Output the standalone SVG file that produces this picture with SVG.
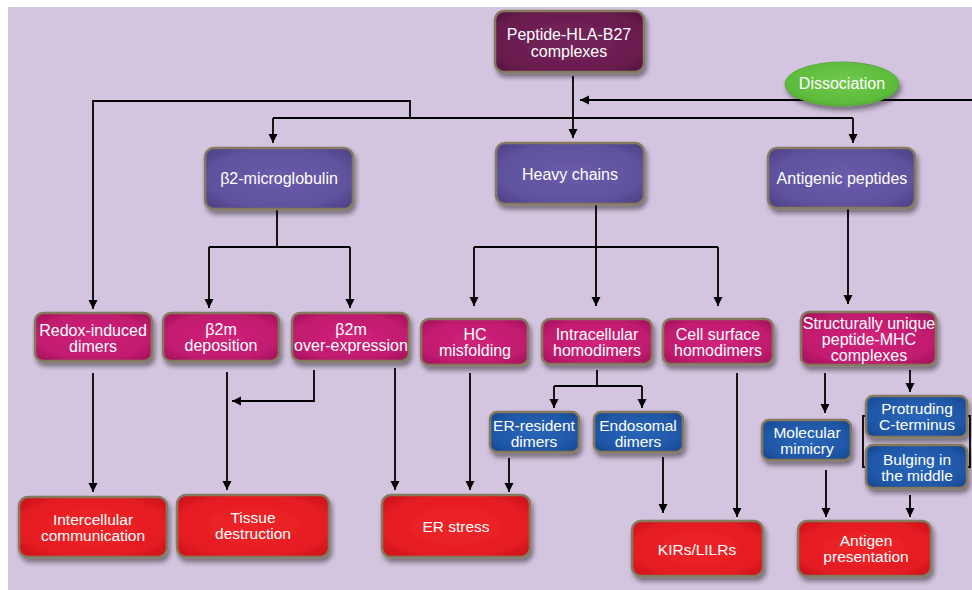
<svg xmlns="http://www.w3.org/2000/svg" width="972" height="590" viewBox="0 0 972 590">
<defs>
  <filter id="sh" x="-20%" y="-20%" width="140%" height="150%">
    <feGaussianBlur in="SourceAlpha" stdDeviation="2.5"/>
    <feOffset dx="2" dy="4" result="b"/>
    <feComponentTransfer><feFuncA type="linear" slope="0.45"/></feComponentTransfer>
    <feMerge><feMergeNode/><feMergeNode in="SourceGraphic"/></feMerge>
  </filter>
  <radialGradient id="gMaroon" cx="50%" cy="50%" r="65%"><stop offset="0" stop-color="#74245a"/><stop offset="0.75" stop-color="#6a1d4f"/><stop offset="1" stop-color="#5a1644"/></radialGradient>
  <radialGradient id="gPurple" cx="50%" cy="50%" r="65%"><stop offset="0" stop-color="#6a5cab"/><stop offset="0.75" stop-color="#5f519d"/><stop offset="1" stop-color="#4f4288"/></radialGradient>
  <radialGradient id="gMagenta" cx="50%" cy="50%" r="65%"><stop offset="0" stop-color="#d0237a"/><stop offset="0.75" stop-color="#c01a6e"/><stop offset="1" stop-color="#a3145c"/></radialGradient>
  <radialGradient id="gRed" cx="50%" cy="50%" r="65%"><stop offset="0" stop-color="#ee2528"/><stop offset="0.75" stop-color="#e51c22"/><stop offset="1" stop-color="#cc141b"/></radialGradient>
  <radialGradient id="gBlue" cx="50%" cy="50%" r="65%"><stop offset="0" stop-color="#2a66b8"/><stop offset="0.75" stop-color="#1f56a6"/><stop offset="1" stop-color="#18478f"/></radialGradient>
  <radialGradient id="gGreen" cx="50%" cy="45%" r="60%"><stop offset="0" stop-color="#72c94e"/><stop offset="0.8" stop-color="#5cbb3a"/><stop offset="1" stop-color="#4aa42c"/></radialGradient>
  <marker id="ah" viewBox="0 0 10 10" refX="10" refY="5" markerUnits="userSpaceOnUse" markerWidth="9" markerHeight="10" orient="auto">
    <path d="M0,0 L10,5 L0,10 Z" fill="#000"/>
  </marker>
</defs>
<style>
  .box { stroke: #857a5e; stroke-width: 2.5; filter: url(#sh); }
  .maroon { fill: url(#gMaroon); }
  .purple { fill: url(#gPurple); }
  .magenta { fill: url(#gMagenta); }
  .red { fill: url(#gRed); }
  .blue { fill: url(#gBlue); }
  .green { fill: url(#gGreen); stroke: #5aa83c; stroke-width: 1; filter: url(#sh); }
  text { font-family: "Liberation Sans", Arial, sans-serif; font-size: 16px; fill: #ffffff; text-anchor: middle; }
  .sm { font-size: 15.5px; }
  .c { fill: none; stroke: #000; stroke-width: 1.8; }
  .a { fill: none; stroke: #000; stroke-width: 1.8; marker-end: url(#ah); }
</style>
<rect x="0" y="0" width="972" height="590" fill="#ffffff"/>
<rect x="8" y="7" width="964" height="583" fill="#d3c4df"/>

<g id="connectors">
  <path class="a" d="M972,100 H580"/>
  <path class="a" d="M573,76 V138"/>
  <path class="c" d="M273,118 H853"/>
  <path class="a" d="M273,118 V143"/>
  <path class="a" d="M853,118 V143"/>
  <path class="a" d="M410,118 V101 H93 V309"/>
  <path class="c" d="M277,209 V247"/>
  <path class="c" d="M209,247 H350"/>
  <path class="a" d="M209,247 V308"/>
  <path class="a" d="M350,247 V308"/>
  <path class="a" d="M596,204 V306"/>
  <path class="c" d="M474,247 H718"/>
  <path class="a" d="M474,247 V306"/>
  <path class="a" d="M718,247 V306"/>
  <path class="a" d="M848,208 V304"/>
  <path class="a" d="M93,373 V492"/>
  <path class="a" d="M227,372 V490"/>
  <path class="a" d="M314,370 V401 H232"/>
  <path class="a" d="M395,368 V490"/>
  <path class="a" d="M470,373 V490"/>
  <path class="c" d="M597,370 V386"/>
  <path class="c" d="M554,386 H642"/>
  <path class="a" d="M554,386 V408"/>
  <path class="a" d="M642,386 V408"/>
  <path class="a" d="M509,458 V492"/>
  <path class="a" d="M663,457 V513"/>
  <path class="a" d="M737,373 V517"/>
  <path class="a" d="M825,373 V413"/>
  <path class="a" d="M910,370 V392"/>
  <path class="a" d="M826,470 V517"/>
  <path class="a" d="M910,495 V517"/>
  <path class="c" d="M869,416 H863 V467 H869"/>
  <path class="c" d="M966,416 H970 V467 H966"/>
</g>

<g id="n-peptide"><rect class="box maroon" x="495" y="11" width="149" height="61" rx="9"/><text x="569" y="40">Peptide-HLA-B27</text><text x="569" y="57">complexes</text></g>
<g id="n-dissociation"><ellipse class="green" cx="842" cy="84" rx="57" ry="22"/><text x="842" y="89">Dissociation</text></g>

<g id="n-b2m"><rect class="box purple" x="205" y="148" width="148" height="61" rx="9"/><text x="279" y="184">β2-microglobulin</text></g>
<g id="n-heavy"><rect class="box purple" x="496" y="143" width="148" height="61" rx="9"/><text x="570" y="180">Heavy chains</text></g>
<g id="n-antigenic"><rect class="box purple" x="768" y="148" width="147" height="60" rx="9"/><text x="842" y="184">Antigenic peptides</text></g>

<g id="n-redox"><rect class="box magenta" x="35" y="313" width="117" height="48" rx="8"/><text x="93" y="336">Redox-induced</text><text x="93" y="352">dimers</text></g>
<g id="n-dep"><rect class="box magenta" x="163" y="313" width="116" height="48" rx="8"/><text x="221" y="335">β2m</text><text x="221" y="351">deposition</text></g>
<g id="n-over"><rect class="box magenta" x="292" y="313" width="117" height="48" rx="8"/><text x="351" y="335">β2m</text><text x="351" y="351">over-expression</text></g>
<g id="n-hc"><rect class="box magenta" x="421" y="319" width="107" height="46" rx="8"/><text x="475" y="340">HC</text><text x="475" y="356">misfolding</text></g>
<g id="n-intra"><rect class="box magenta" x="542" y="319" width="110" height="45" rx="8"/><text x="597" y="340">Intracellular</text><text x="597" y="356">homodimers</text></g>
<g id="n-cell"><rect class="box magenta" x="663" y="319" width="110" height="45" rx="8"/><text x="718" y="340">Cell surface</text><text x="718" y="356">homodimers</text></g>
<g id="n-struct"><rect class="box magenta" x="801" y="312" width="135" height="53" rx="8"/><text x="869" y="329">Structurally unique</text><text x="869" y="345">peptide-MHC</text><text x="869" y="361">complexes</text></g>

<g id="n-er-res"><rect class="box blue" x="490" y="412" width="89" height="40" rx="7"/><text class="sm" x="534" y="431">ER-resident</text><text class="sm" x="534" y="447">dimers</text></g>
<g id="n-endo"><rect class="box blue" x="594" y="412" width="89" height="40" rx="7"/><text class="sm" x="638" y="431">Endosomal</text><text class="sm" x="638" y="447">dimers</text></g>
<g id="n-mimicry"><rect class="box blue" x="762" y="420" width="89" height="40" rx="7"/><text class="sm" x="807" y="438">Molecular</text><text class="sm" x="807" y="454">mimicry</text></g>
<g id="n-protruding"><rect class="box blue" x="866" y="396" width="101" height="41" rx="7"/><text class="sm" x="917" y="414">Protruding</text><text class="sm" x="917" y="430">C-terminus</text></g>
<g id="n-bulging"><rect class="box blue" x="866" y="445" width="101" height="43" rx="7"/><text class="sm" x="917" y="465">Bulging in</text><text class="sm" x="917" y="481">the middle</text></g>

<g id="n-intercell"><rect class="box red" x="19" y="497" width="148" height="60" rx="9"/><text class="sm" x="93" y="525">Intercellular</text><text class="sm" x="93" y="541">communication</text></g>
<g id="n-tissue"><rect class="box red" x="177" y="495" width="152" height="62" rx="9"/><text class="sm" x="253" y="523">Tissue</text><text class="sm" x="253" y="539">destruction</text></g>
<g id="n-erstress"><rect class="box red" x="382" y="495" width="148" height="62" rx="9"/><text class="sm" x="456" y="532">ER stress</text></g>
<g id="n-kirs"><rect class="box red" x="632" y="521" width="131" height="55" rx="9"/><text class="sm" x="697" y="555">KIRs/LILRs</text></g>
<g id="n-antigen"><rect class="box red" x="798" y="521" width="133" height="55" rx="9"/><text class="sm" x="866" y="546">Antigen</text><text class="sm" x="866" y="562">presentation</text></g>
</svg>
